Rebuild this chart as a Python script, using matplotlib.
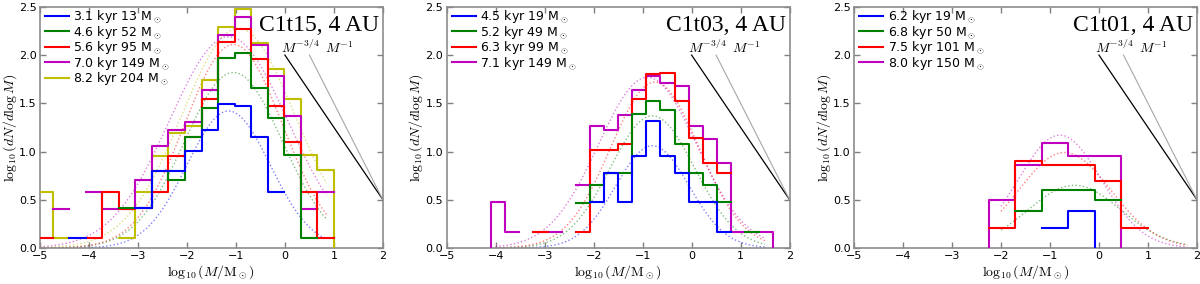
import numpy as np
import matplotlib.pyplot as plt

plt.rcParams['font.family'] = 'DejaVu Sans'
plt.rcParams['mathtext.fontset'] = 'cm'

nan = np.nan
OFF = -1.0  # empty bin: the step drops below the axis

colors = ['b', 'g', 'r', 'm', 'y']

# ---- C1t15 ----
edges1 = np.linspace(-5.08, 1.338, 20)
blue1 = [nan, nan, 0.10, nan, nan, nan, 0.41, 0.80, 0.80, 1.01, 1.22, 1.49, 1.47, 1.15, 0.58, nan, nan, nan, nan]
green1 = [nan, nan, nan, nan, nan, 0.41, 0.41, 0.80, 0.71, 1.15, 1.45, 1.97, 2.02, 1.66, 1.35, 0.96, 0.10, nan, nan]
red1 = [0.10, nan, nan, 0.10, 0.58, 0.40, 0.41, 0.58, 0.95, 1.15, 1.54, 2.14, 2.27, 1.96, 1.47, 1.10, 0.58, 0.10, nan]
magenta1 = [nan, 0.40, nan, 0.58, 0.40, 0.40, 0.70, 1.06, 1.22, 1.31, 1.64, 2.21, 2.40, 2.10, 1.78, 1.37, 0.40, 0.58, nan]
yellow1 = [0.58, 0.10, nan, nan, nan, 0.10, 0.58, 0.95, 1.19, 1.26, 1.74, 2.29, 2.48, 2.13, 1.86, 1.54, 0.96, 0.81, OFF]
labels1 = ['3.1 kyr 13 M$_\\odot$', '4.6 kyr 52 M$_\\odot$', '5.6 kyr 95 M$_\\odot$',
           '7.0 kyr 149 M$_\\odot$', '8.2 kyr 204 M$_\\odot$']
fit1_peak = [1.42, 1.82, 2.11, 2.19, 2.28]
fit1_mu = [-1.15, -1.05, -1.05, -1.15, -0.95]
fit1_sig = [0.85, 1.0, 1.0, 1.2, 1.15]
fit1_range = (-5.0, 0.85)

# ---- C1t03 ----
edges2 = np.linspace(-4.381, 1.955, 23)
blue2 = [nan] * 8 + [0.48, 0.78, 0.48, 0.95, 1.32, 0.95, 0.78, 0.48, 0.48, 0.17] + [nan] * 4
green2 = [nan] * 7 + [0.47, 0.65, 0.78, 0.78, 1.39, 1.52, 1.43, 1.08, 0.78, 0.65, 0.48, nan, 0.17] + [nan] * 2
red2 = [nan] * 4 + [0.17, nan, nan, 0.17, 1.02, 1.02, 1.08, 1.54, 1.80, 1.81, 1.52, 1.14, 0.88, 0.78] + [nan] * 4
magenta2 = [OFF, 0.48, 0.17, nan, 0.17, 0.17, nan, 0.65, 1.26, 1.22, 1.38, 1.64, 1.78, 1.71,
            1.68, 1.26, 1.13, 0.88, 0.17, 0.17, 0.17, OFF]
labels2 = ['4.5 kyr 19 M$_\\odot$', '5.2 kyr 49 M$_\\odot$', '6.3 kyr 99 M$_\\odot$',
           '7.1 kyr 149 M$_\\odot$']
fit2_peak = [1.06, 1.37, 1.72, 1.77]
fit2_mu = [-0.8, -0.8, -0.75, -0.9]
fit2_sig = [0.75, 0.86, 0.9, 1.0]
fit2_range = (-4.0, 1.5)

# ---- C1t01 ----
edges3 = np.linspace(-2.79, 1.53, 9)
blue3 = [nan, nan, nan, 0.21, 0.38, OFF, nan, nan]
green3 = [nan, nan, 0.38, 0.60, 0.60, 0.50, nan, nan]
red3 = [nan, 0.21, 0.90, 0.86, 0.86, 0.69, 0.21, nan]
magenta3 = [OFF, 0.50, 0.86, 1.09, 0.95, 0.95, OFF, nan]
labels3 = ['6.2 kyr 19 M$_\\odot$', '6.8 kyr 50 M$_\\odot$', '7.5 kyr 101 M$_\\odot$',
           '8.0 kyr 150 M$_\\odot$']
fit3_peak = [nan, 0.65, 0.99, 1.17]
fit3_mu = [nan, -0.5, -0.7, -0.8]
fit3_sig = [nan, 0.95, 0.94, 0.85]
fit3_range = (-2.0, 1.8)

# reference power laws M^-3/4 and M^-1
plaw_x0 = [0.0, 0.5]
plaw_y0 = [2.0, 2.0]
plaw_x1 = [2.0, 2.0]
plaw_y1 = [0.5, 0.5]

panels = [
    ('C1t15, 4 AU', edges1, [blue1, green1, red1, magenta1, yellow1], labels1,
     (fit1_peak, fit1_mu, fit1_sig, fit1_range)),
    ('C1t03, 4 AU', edges2, [blue2, green2, red2, magenta2], labels2,
     (fit2_peak, fit2_mu, fit2_sig, fit2_range)),
    ('C1t01, 4 AU', edges3, [blue3, green3, red3, magenta3], labels3,
     (fit3_peak, fit3_mu, fit3_sig, fit3_range)),
]

fig = plt.figure(figsize=(12, 2.84), dpi=100)
lefts = [0.0333, 0.3722, 0.7117]

for left, (name, edges, series, labels, fit) in zip(lefts, panels):
    ax = fig.add_axes([left, 0.1268, 0.2858, 0.849])
    n = len(series)
    handles = []
    for i, vals in enumerate(series):
        y = np.append(vals, vals[-1])
        h, = ax.plot(edges, y, drawstyle='steps-post', color=colors[i], lw=1.5,
                     zorder=3 + n - i, label=labels[i])
        handles.append(h)

    # lognormal fits, dotted
    peak, mu, sig, (xa, xb) = fit
    xf = np.linspace(xa, xb, 200)
    for i in range(n):
        if np.isnan(peak[i]):
            continue
        yf = peak[i] * np.exp(-(xf - mu[i]) ** 2 / (2 * sig[i] ** 2))
        ax.plot(xf, yf, ls=':', color=colors[i], lw=1.0, alpha=0.5, zorder=2)

    ax.plot([plaw_x0[0], plaw_x1[0]], [plaw_y0[0], plaw_y1[0]], color='k', lw=0.9)
    ax.plot([plaw_x0[1], plaw_x1[1]], [plaw_y0[1], plaw_y1[1]], color='0.65', lw=0.8)
    ax.text(-0.08, 1.99, r'$M^{-3/4}$', fontsize=10, va='bottom', ha='left')
    ax.text(0.82, 1.99, r'$M^{-1}$', fontsize=10, va='bottom', ha='left')

    ax.text(0.99, 0.965, name, transform=ax.transAxes, ha='right', va='top',
            fontsize=17, family='Liberation Serif')

    ax.set_xlim(-5, 2)
    ax.set_ylim(0, 2.5)
    ax.set_xticks(range(-5, 3))
    ax.set_yticks(np.arange(0, 2.51, 0.5))
    ax.set_yticklabels(['0.0', '0.5', '1.0', '1.5', '2.0', '2.5'])
    ax.tick_params(direction='in', top=True, right=True, color='0.5', length=4,
                   width=1, labelsize=8, pad=2.5)
    for sp in ax.spines.values():
        sp.set_color('0.55')
        sp.set_linewidth(1.2)
    ax.set_xlabel(r'$\log_{10}(M/\mathrm{M}_\odot)$', fontsize=10, labelpad=1)
    ax.set_ylabel(r'$\log_{10}(dN/d\log M)$', fontsize=10, labelpad=0)

    ax.legend(handles=handles, loc='upper left', bbox_to_anchor=(0.012, 1.0),
              frameon=False, fontsize=9, handlelength=1.9, handletextpad=0.35,
              labelspacing=-0.12, borderaxespad=0.0, borderpad=0.1)

fig.savefig('out.png', dpi=100)
